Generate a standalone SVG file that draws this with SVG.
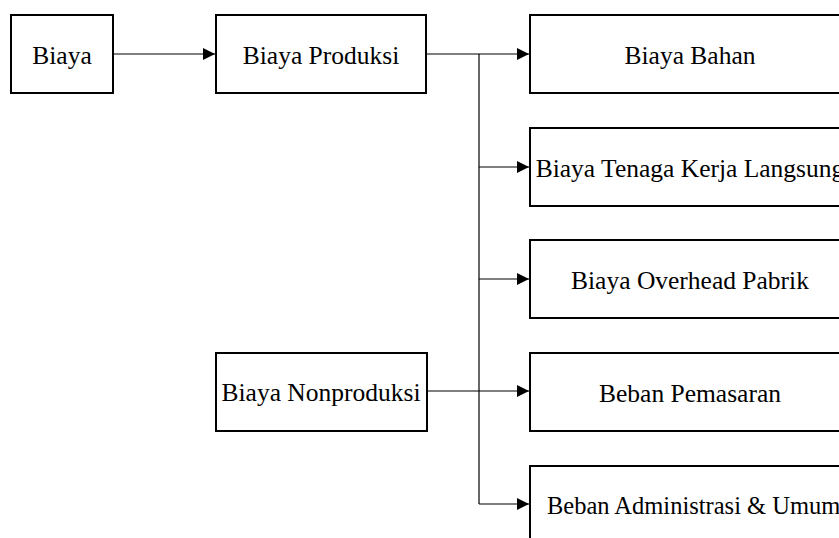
<svg xmlns="http://www.w3.org/2000/svg" width="839" height="538" viewBox="0 0 839 538">
<style>
.box{fill:#fff;stroke:#000;stroke-width:2}
.lbl{font-family:"Liberation Serif","Times New Roman",serif;font-size:25.5px;fill:#000;text-anchor:middle}
.con{fill:none;stroke:#000;stroke-width:1.2}
</style>
<defs>
<marker id="arr" markerWidth="12" markerHeight="12" refX="12" refY="6" orient="auto" markerUnits="userSpaceOnUse">
<path d="M0,0 L12,6 L0,12 Z" fill="#000"/>
</marker>
</defs>
<rect width="839" height="538" fill="#fff"/>
<g id="connectors">
<line class="con" x1="114" y1="54" x2="215" y2="54" marker-end="url(#arr)"/>
<line class="con" x1="427" y1="54" x2="529" y2="54" marker-end="url(#arr)"/>
<line class="con" x1="479" y1="54" x2="479" y2="504"/>
<line class="con" x1="479" y1="167" x2="529" y2="167" marker-end="url(#arr)"/>
<line class="con" x1="479" y1="279" x2="529" y2="279" marker-end="url(#arr)"/>
<line class="con" x1="428" y1="391" x2="529" y2="391" marker-end="url(#arr)"/>
<line class="con" x1="479" y1="504" x2="529" y2="504" marker-end="url(#arr)"/>
</g>
<g id="biaya">
<rect class="box" x="11" y="15" width="102" height="78"/>
<text class="lbl" x="62" y="64">Biaya</text>
</g>
<g id="biaya-produksi">
<rect class="box" x="216" y="15" width="210" height="78"/>
<text class="lbl" x="321" y="64">Biaya Produksi</text>
</g>
<g id="biaya-nonproduksi">
<rect class="box" x="216" y="353" width="211" height="78"/>
<text class="lbl" x="321" y="401">Biaya Nonproduksi</text>
</g>
<g id="biaya-bahan">
<rect class="box" x="530" y="15" width="320" height="78"/>
<text class="lbl" x="690" y="64">Biaya Bahan</text>
</g>
<g id="biaya-tenaga-kerja">
<rect class="box" x="530" y="128" width="320" height="78"/>
<text class="lbl" x="690" y="177">Biaya Tenaga Kerja Langsung</text>
</g>
<g id="biaya-overhead">
<rect class="box" x="530" y="240" width="320" height="78"/>
<text class="lbl" x="690" y="289">Biaya Overhead Pabrik</text>
</g>
<g id="beban-pemasaran">
<rect class="box" x="530" y="353" width="320" height="78"/>
<text class="lbl" x="690" y="402">Beban Pemasaran</text>
</g>
<g id="beban-administrasi">
<rect class="box" x="530" y="466" width="320" height="78"/>
<text class="lbl" x="547" y="514" style="text-anchor:start;font-size:24.5px">Beban Administrasi &amp; Umum</text>
</g>
</svg>
